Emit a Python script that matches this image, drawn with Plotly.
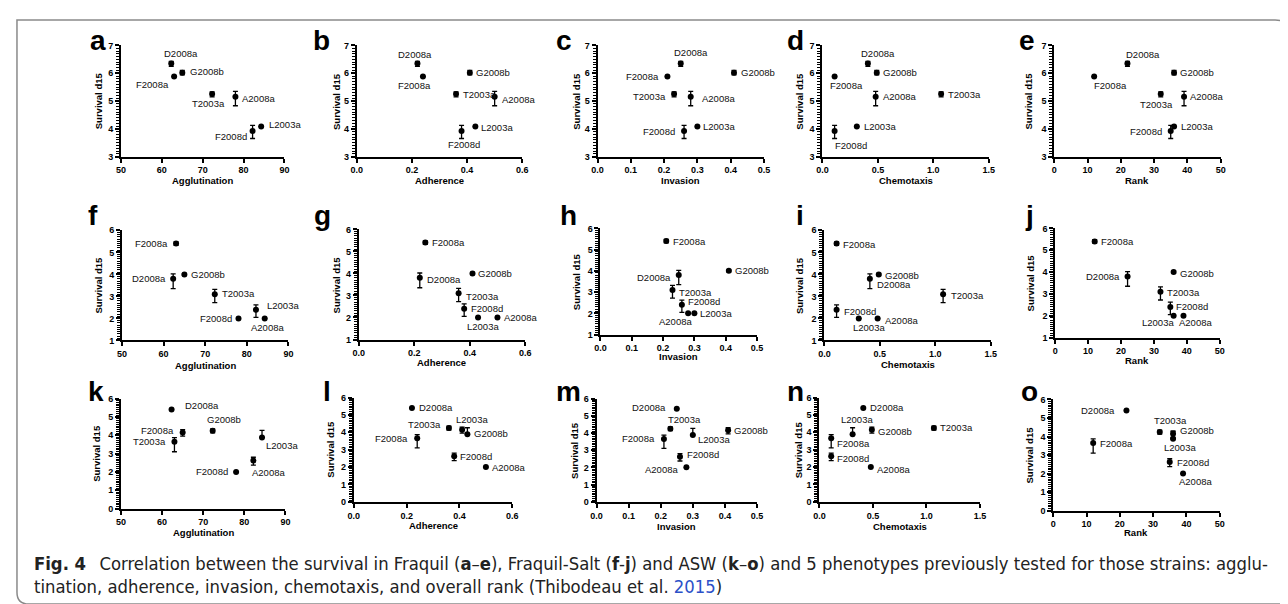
import plotly.graph_objects as go

# ---------------- data ----------------
strains = ["D2008a", "F2008a", "G2008b", "T2003a", "A2008a", "F2008d", "L2003a"]

agglutination = [62.3, 63.0, 65.0, 72.3, 78.0, 82.2, 84.3]
adherence = [0.22, 0.24, 0.41, 0.36, 0.50, 0.38, 0.43]
invasion = [0.25, 0.21, 0.41, 0.23, 0.28, 0.26, 0.30]
chemotaxis = [0.41, 0.11, 0.49, 1.07, 0.48, 0.11, 0.31]
rank = [22, 12, 36, 32, 39, 35, 36]

surv_fraquil = [6.35, 5.88, 6.02, 5.25, 5.15, 3.92, 4.08]
err_up_fraquil = [0.08, 0.0, 0.08, 0.08, 0.20, 0.20, 0.0]
err_dn_fraquil = [0.10, 0.0, 0.08, 0.10, 0.32, 0.27, 0.0]

surv_salt = [3.80, 5.40, 4.00, 3.10, 2.00, 2.40, 2.00]
err_up_salt = [0.22, 0.08, 0.05, 0.22, 0.0, 0.22, 0.0]
err_dn_salt = [0.45, 0.08, 0.05, 0.38, 0.0, 0.35, 0.0]

surv_asw = [5.40, 3.65, 4.15, 4.25, 2.00, 2.62, 3.88]
err_up_asw = [0.0, 0.22, 0.15, 0.10, 0.0, 0.18, 0.38]
err_dn_asw = [0.0, 0.55, 0.20, 0.12, 0.0, 0.25, 0.0]

# labels as printed in the agglutination panels of the salt and ASW rows
agg_labels_salt = ["D2008a", "F2008a", "G2008b", "T2003a", "F2008d", "L2003a", "A2008a"]
agg_labels_asw = ["D2008a", "T2003a", "F2008a", "G2008b", "F2008d", "A2008a", "L2003a"]

panel_letters = list("abcdefghijklmno")
x_titles = ["Agglutination", "Adherence", "Invasion", "Chemotaxis", "Rank"]
x_values = [agglutination, adherence, invasion, chemotaxis, rank]
x_ranges = [[50, 90], [0, 0.6], [0, 0.5], [0, 1.5], [0, 50]]
x_dticks = [10, 0.2, 0.1, 0.5, 10]
x_formats = ["d", ".1f", ".1f", ".1f", "d"]

rows = [
    dict(y=surv_fraquil, up=err_up_fraquil, dn=err_dn_fraquil, yr=[3, 7]),
    dict(y=surv_salt, up=err_up_salt, dn=err_dn_salt, yr=[1, 6]),
    dict(y=surv_asw, up=err_up_asw, dn=err_dn_asw, yr=[0, 6]),
]

# ---------------- layout geometry (pixels) ----------------
W, H = 1288, 604
# (x0, x1, ytop, ybottom) of each plot area
boxes = [
    (108, 273, 33, 146), (346, 513, 33, 146), (589, 757, 33, 146), (816, 984, 33, 146), (1050, 1218, 33, 146),
    (109, 277, 221, 333), (348, 516, 220, 332), (592, 750, 219, 327), (818, 986, 221, 333), (1051, 1217, 219, 330),
    (108, 274, 392, 504), (343, 503, 391, 497), (588, 750, 392, 497), (813, 975, 391, 497), (1049, 1217, 393, 506),
]
letter_pos = [
    (85, 28), (310, 28), (555, 28), (789, 28), (1023, 28),
    (80, 206), (311, 206), (560, 206), (793, 206), (1025, 206),
    (83, 385), (316, 385), (560, 385), (789, 385), (1025, 385),
]
ytitle_x = [85, 325, 567, 792, 1024, 85, 325, 568, 793, 1027, 83, 320, 565, 792, 1025]
xtitle_y = [170, 170, 170, 170, 170, 358, 355, 349, 357, 353, 528, 521, 522, 522, 528]

# label placement per panel, in strain order: (anchor, dx, dy) in pixels
label_pos = [
    # a
    [("center", 10, -10), ("right", -3, 8), ("left", 6, -1), ("center", -4, 9), ("left", 5, 2), ("right", -4, 5), ("left", 6, -2)],
    # b
    [("center", -2, -9), ("center", -8, 9), ("left", 4, 0), ("left", 5, 0), ("left", 5, 3), ("center", 2, 13), ("left", 4, 1)],
    # c
    [("center", 10, -11), ("right", -6, 0), ("left", 5, 0), ("right", -6, 2), ("left", 9, 2), ("right", -7, 0), ("left", 4, 0)],
    # d
    [("center", 10, -10), ("center", 12, 9), ("left", 4, 0), ("left", 5, 0), ("left", 5, 0), ("center", 16, 14), ("left", 5, 0)],
    # e
    [("center", 16, -9), ("center", 16, 9), ("left", 4, 0), ("center", -4, 10), ("left", 4, 0), ("right", -7, 0), ("left", 5, 0)],
    # f
    [("right", -5, 0), ("right", -6, 0), ("left", 5, 0), ("left", 5, -1), ("right", -4, 0), ("left", 9, -4), ("center", 3, 9)],
    # g
    [("left", 5, 2), ("left", 5, 0), ("left", 4, 0), ("left", 5, 3), ("left", 5, 0), ("left", 5, 0), ("center", 5, 9)],
    # h
    [("right", -6, 2), ("left", 5, 0), ("left", 4, 0), ("left", 5, 3), ("center", -13, 8), ("left", 4, -3), ("left", 4, 0)],
    # i
    [("left", 5, 6), ("left", 4, 1), ("left", 4, 1), ("left", 6, 1), ("left", 5, 2), ("left", 5, 2), ("center", 10, 9)],
    # j
    [("right", -6, 0), ("left", 4, 0), ("left", 4, 1), ("left", 5, 1), ("center", 12, 7), ("left", 4, 0), ("center", -16, 7)],
    # k
    [("left", 11, -4), ("right", -6, 0), ("right", -7, -2), ("center", 11, -11), ("right", -6, 0), ("center", 15, 12), ("left", 2, 8)],
    # l
    [("left", 5, 0), ("right", -7, 0), ("left", 10, 4), ("right", -6, -3), ("left", 4, 0), ("left", 4, 0), ("center", 5, -15)],
    # m
    [("right", -9, -1), ("right", -7, 0), ("left", 4, 0), ("center", 14, -9), ("right", -6, 2), ("left", 5, -2), ("left", 3, 5)],
    # n
    [("left", 5, 0), ("left", 4, 5), ("left", 4, 2), ("left", 4, 0), ("left", 4, 2), ("left", 4, 2), ("center", 4, -15)],
    # o
    [("right", -9, 0), ("left", 5, 0), ("left", 5, -3), ("center", 11, -11), ("center", 12, 8), ("left", 5, 0), ("center", 7, 9)],
]

FONT = "Liberation Sans, Arial, sans-serif"


def px(x):
    return x / W


def py(y):
    return 1 - y / H


fig = go.Figure()
annotations = []
layout_axes = {}

for i in range(15):
    r, c = divmod(i, 5)
    row = rows[r]
    xs = x_values[c]
    n = "" if i == 0 else str(i + 1)
    xa, ya = "x" + n, "y" + n

    fig.add_trace(go.Scatter(
        x=xs, y=row["y"], mode="markers", xaxis=xa, yaxis=ya,
        marker=dict(color="black", size=6),
        error_y=dict(type="data", symmetric=False, array=row["up"], arrayminus=row["dn"],
                     color="black", thickness=1.3, width=2.5),
        showlegend=False, cliponaxis=False, hoverinfo="skip",
    ))

    if c == 0 and r == 1:
        labels = agg_labels_salt
    elif c == 0 and r == 2:
        labels = agg_labels_asw
    else:
        labels = strains

    for k in range(len(strains)):
        anchor, dx, dy = label_pos[i][k]
        annotations.append(dict(
            x=xs[k], y=row["y"][k], xref=xa, yref=ya, text=labels[k], showarrow=False,
            xanchor=anchor, yanchor="middle", xshift=dx, yshift=-dy,
            font=dict(family=FONT, size=9.5, color="#111"),
        ))

    x0, x1, yt, yb = boxes[i]
    common = dict(showline=True, linecolor="black", linewidth=2, ticks="outside",
                  tickcolor="black", tickwidth=1.5, ticklen=4, showgrid=False, zeroline=False,
                  tickfont=dict(family=FONT, size=9, color="black", weight="bold"))
    layout_axes["xaxis" + n] = dict(
        domain=[px(x0), px(x1)], anchor=ya, range=x_ranges[c], dtick=x_dticks[c],
        tick0=x_ranges[c][0], tickformat=x_formats[c], **common)
    layout_axes["yaxis" + n] = dict(
        domain=[py(yb), py(yt)], anchor=xa, range=row["yr"], dtick=1,
        minor=dict(dtick=0.1, ticks="outside", ticklen=3, tickwidth=1.2, tickcolor="black"),
        **common)

    # panel letter
    lx, ly = letter_pos[i]
    annotations.append(dict(x=px(lx), y=py(ly), xref="paper", yref="paper", text="<b>%s</b>" % panel_letters[i],
                            showarrow=False, xanchor="center", yanchor="middle",
                            font=dict(family=FONT, size=28, color="black")))
    # y title
    annotations.append(dict(x=px(ytitle_x[i]), y=py((yt + yb) / 2), xref="paper", yref="paper",
                            text="<b>Survival d15</b>", textangle=-90, showarrow=False,
                            xanchor="center", yanchor="middle",
                            font=dict(family=FONT, size=9.5, color="black")))
    # x title
    annotations.append(dict(x=px((x0 + x1) / 2), y=py(xtitle_y[i]), xref="paper", yref="paper",
                            text="<b>%s</b>" % x_titles[c], showarrow=False,
                            xanchor="center", yanchor="middle",
                            font=dict(family=FONT, size=9.5, color="black")))

# caption
cap_font = dict(family="Liberation Sans Narrow, DejaVu Sans Condensed, Noto Sans, sans-serif", size=18.3, color="#222")
line1 = ("<b>Fig. 4</b>\u2002 Correlation between the survival in Fraquil (<b>a</b>\u2013<b>e</b>), "
         "Fraquil-Salt (<b>f</b>-<b>j</b>) and ASW (<b>k</b>\u2013<b>o</b>) and 5 phenotypes previously "
         "tested for those strains: agglu-")
line2 = ("tination, adherence, invasion, chemotaxis, and overall rank (Thibodeau et al. "
         "<span style='color:#2b50c8'>2015</span>)")
annotations.append(dict(x=px(18), y=py(560), xref="paper", yref="paper", text=line1, showarrow=False,
                        xanchor="left", yanchor="middle", font=cap_font))
annotations.append(dict(x=px(18), y=py(583), xref="paper", yref="paper", text=line2, showarrow=False,
                        xanchor="left", yanchor="middle", font=cap_font))

# frame (rounded top-right and bottom-left corners)
pts = "M {a},{b} L {c},{b} Q {d},{b} {d},{e} L {d},{f} L {g},{f} Q {a},{f} {a},{h} Z".format(
    a=px(3), b=py(7), c=px(1273), d=px(1285), e=py(19), f=py(601), g=px(15), h=py(589))
shapes = [dict(type="path", path=pts, xref="paper", yref="paper",
               line=dict(color="#8a8a8a", width=1.5), fillcolor="rgba(0,0,0,0)")]

fig.update_layout(
    width=W, height=H, margin=dict(l=0, r=0, t=0, b=0),
    paper_bgcolor="white", plot_bgcolor="white",
    annotations=annotations, shapes=shapes, showlegend=False,
    **layout_axes,
)

fig.write_html("out.html")
